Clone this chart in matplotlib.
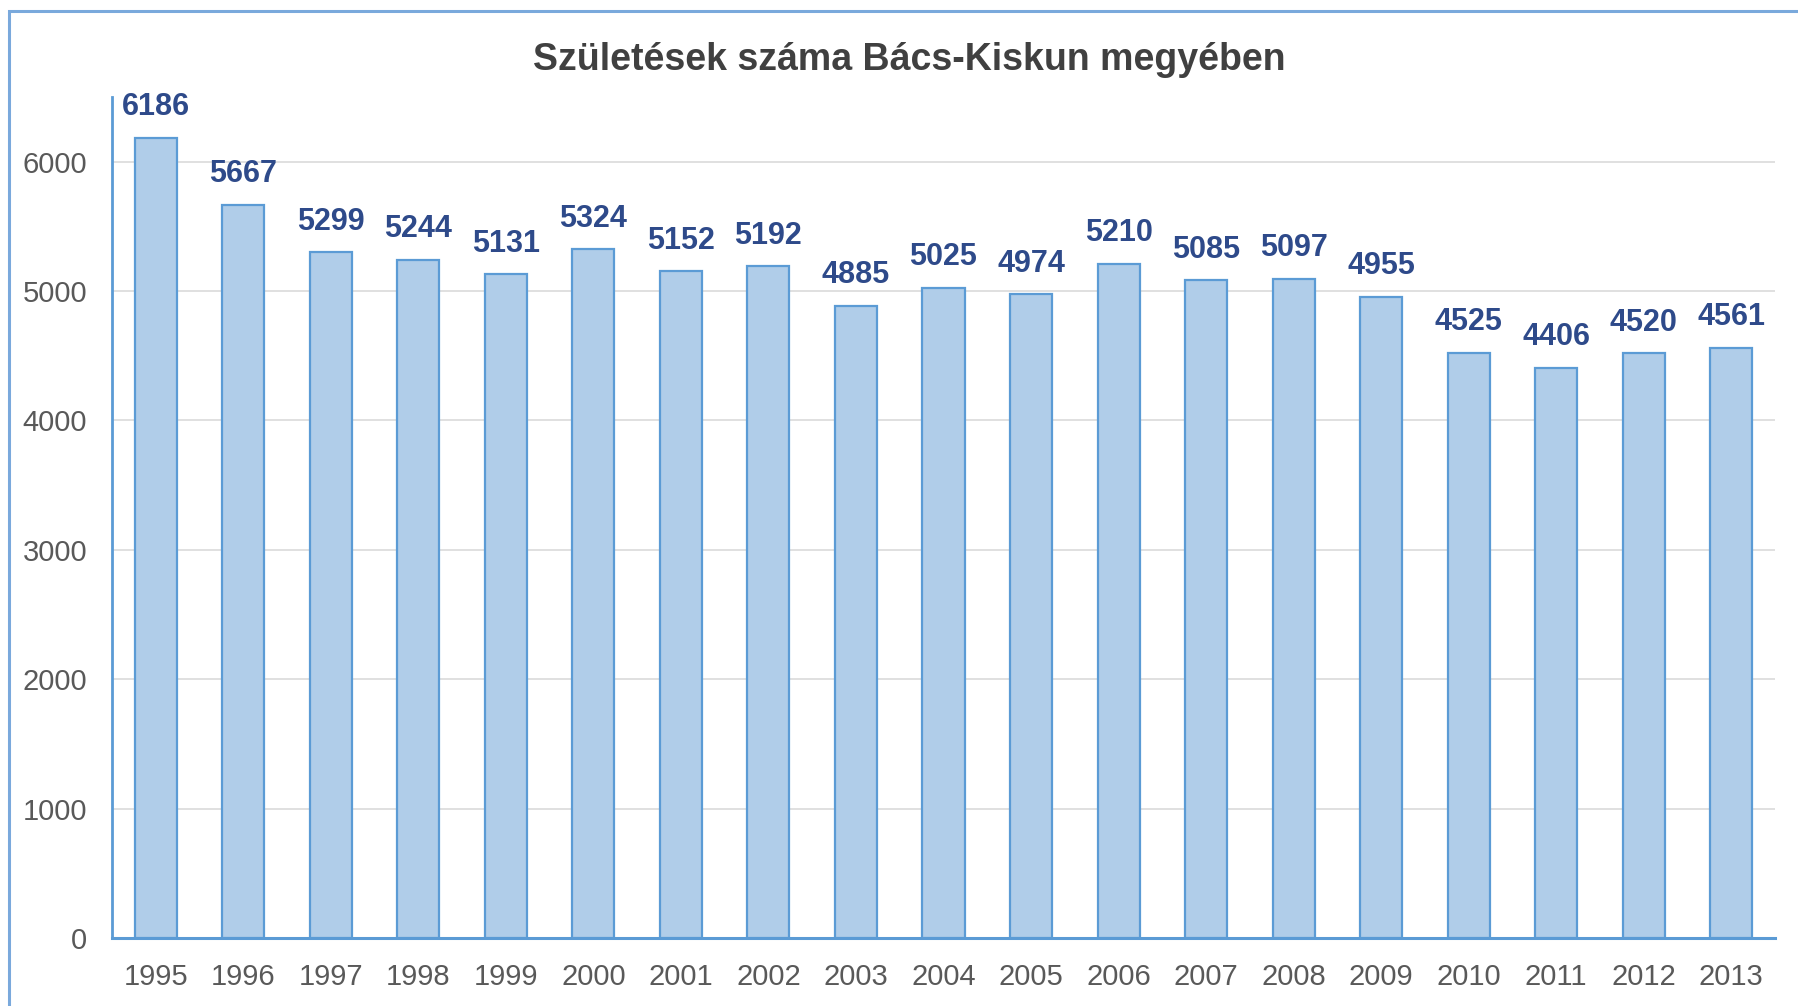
import matplotlib
matplotlib.use("Agg")
import matplotlib.pyplot as plt
from matplotlib.patches import Rectangle

years = ["1995", "1996", "1997", "1998", "1999", "2000", "2001", "2002", "2003", "2004",
         "2005", "2006", "2007", "2008", "2009", "2010", "2011", "2012", "2013"]
births = [6186, 5667, 5299, 5244, 5131, 5324, 5152, 5192, 4885, 5025,
          4974, 5210, 5085, 5097, 4955, 4525, 4406, 4520, 4561]
yticks = [0, 1000, 2000, 3000, 4000, 5000, 6000]

plt.rcParams["font.family"] = ["Liberation Sans", "DejaVu Sans"]

BAR_FILL = "#b0cde9"
BAR_EDGE = "#5b9bd5"
LABEL_CLR = "#2e4a8a"
TICK_CLR = "#595959"

W, H = 1798, 1006
fig = plt.figure(figsize=(W / 100, H / 100), dpi=100)
ax = fig.add_axes([112 / W, 1 - 938 / H, (1775 - 112) / W, (938 - 97) / H])

x = list(range(len(years)))
ax.bar(x, births, width=0.48, color=BAR_FILL, edgecolor=BAR_EDGE, linewidth=1.6, zorder=3)

for xi, v in zip(x, births):
    ax.text(xi, v + 120, str(v), ha="center", va="bottom", fontsize=22,
            fontweight="bold", color=LABEL_CLR, zorder=4)

ax.set_xlim(-0.5, len(years) - 0.5)
ax.set_ylim(0, 6500)
ax.set_xticks(x)
ax.set_xticklabels(years)
ax.set_yticks(yticks)
ax.tick_params(axis="both", length=0, labelsize=21, labelcolor=TICK_CLR)
ax.tick_params(axis="x", pad=18)
ax.tick_params(axis="y", pad=18)

ax.yaxis.grid(True, color="#dadada", linewidth=1.2, zorder=0)
ax.set_axisbelow(True)
for s in ["top", "right"]:
    ax.spines[s].set_visible(False)
ax.spines["left"].set_color(BAR_EDGE)
ax.spines["left"].set_linewidth(2)
ax.spines["bottom"].set_color(BAR_EDGE)
ax.spines["bottom"].set_linewidth(2.2)

fig.text(909 / W, 1 - 60 / H, "Születések száma Bács-Kiskun megyében", ha="center",
         va="center", fontsize=27, fontweight="bold", color="#404040")

# outer chart frame (cut at right and bottom as in the source)
fig.patches.append(Rectangle((9 / W, -0.05), 1.1, 1 - 11 / H + 0.05, transform=fig.transFigure,
                             fill=False, edgecolor="#7aa9dc", linewidth=2.2))

fig.savefig("out.png", dpi=100)
